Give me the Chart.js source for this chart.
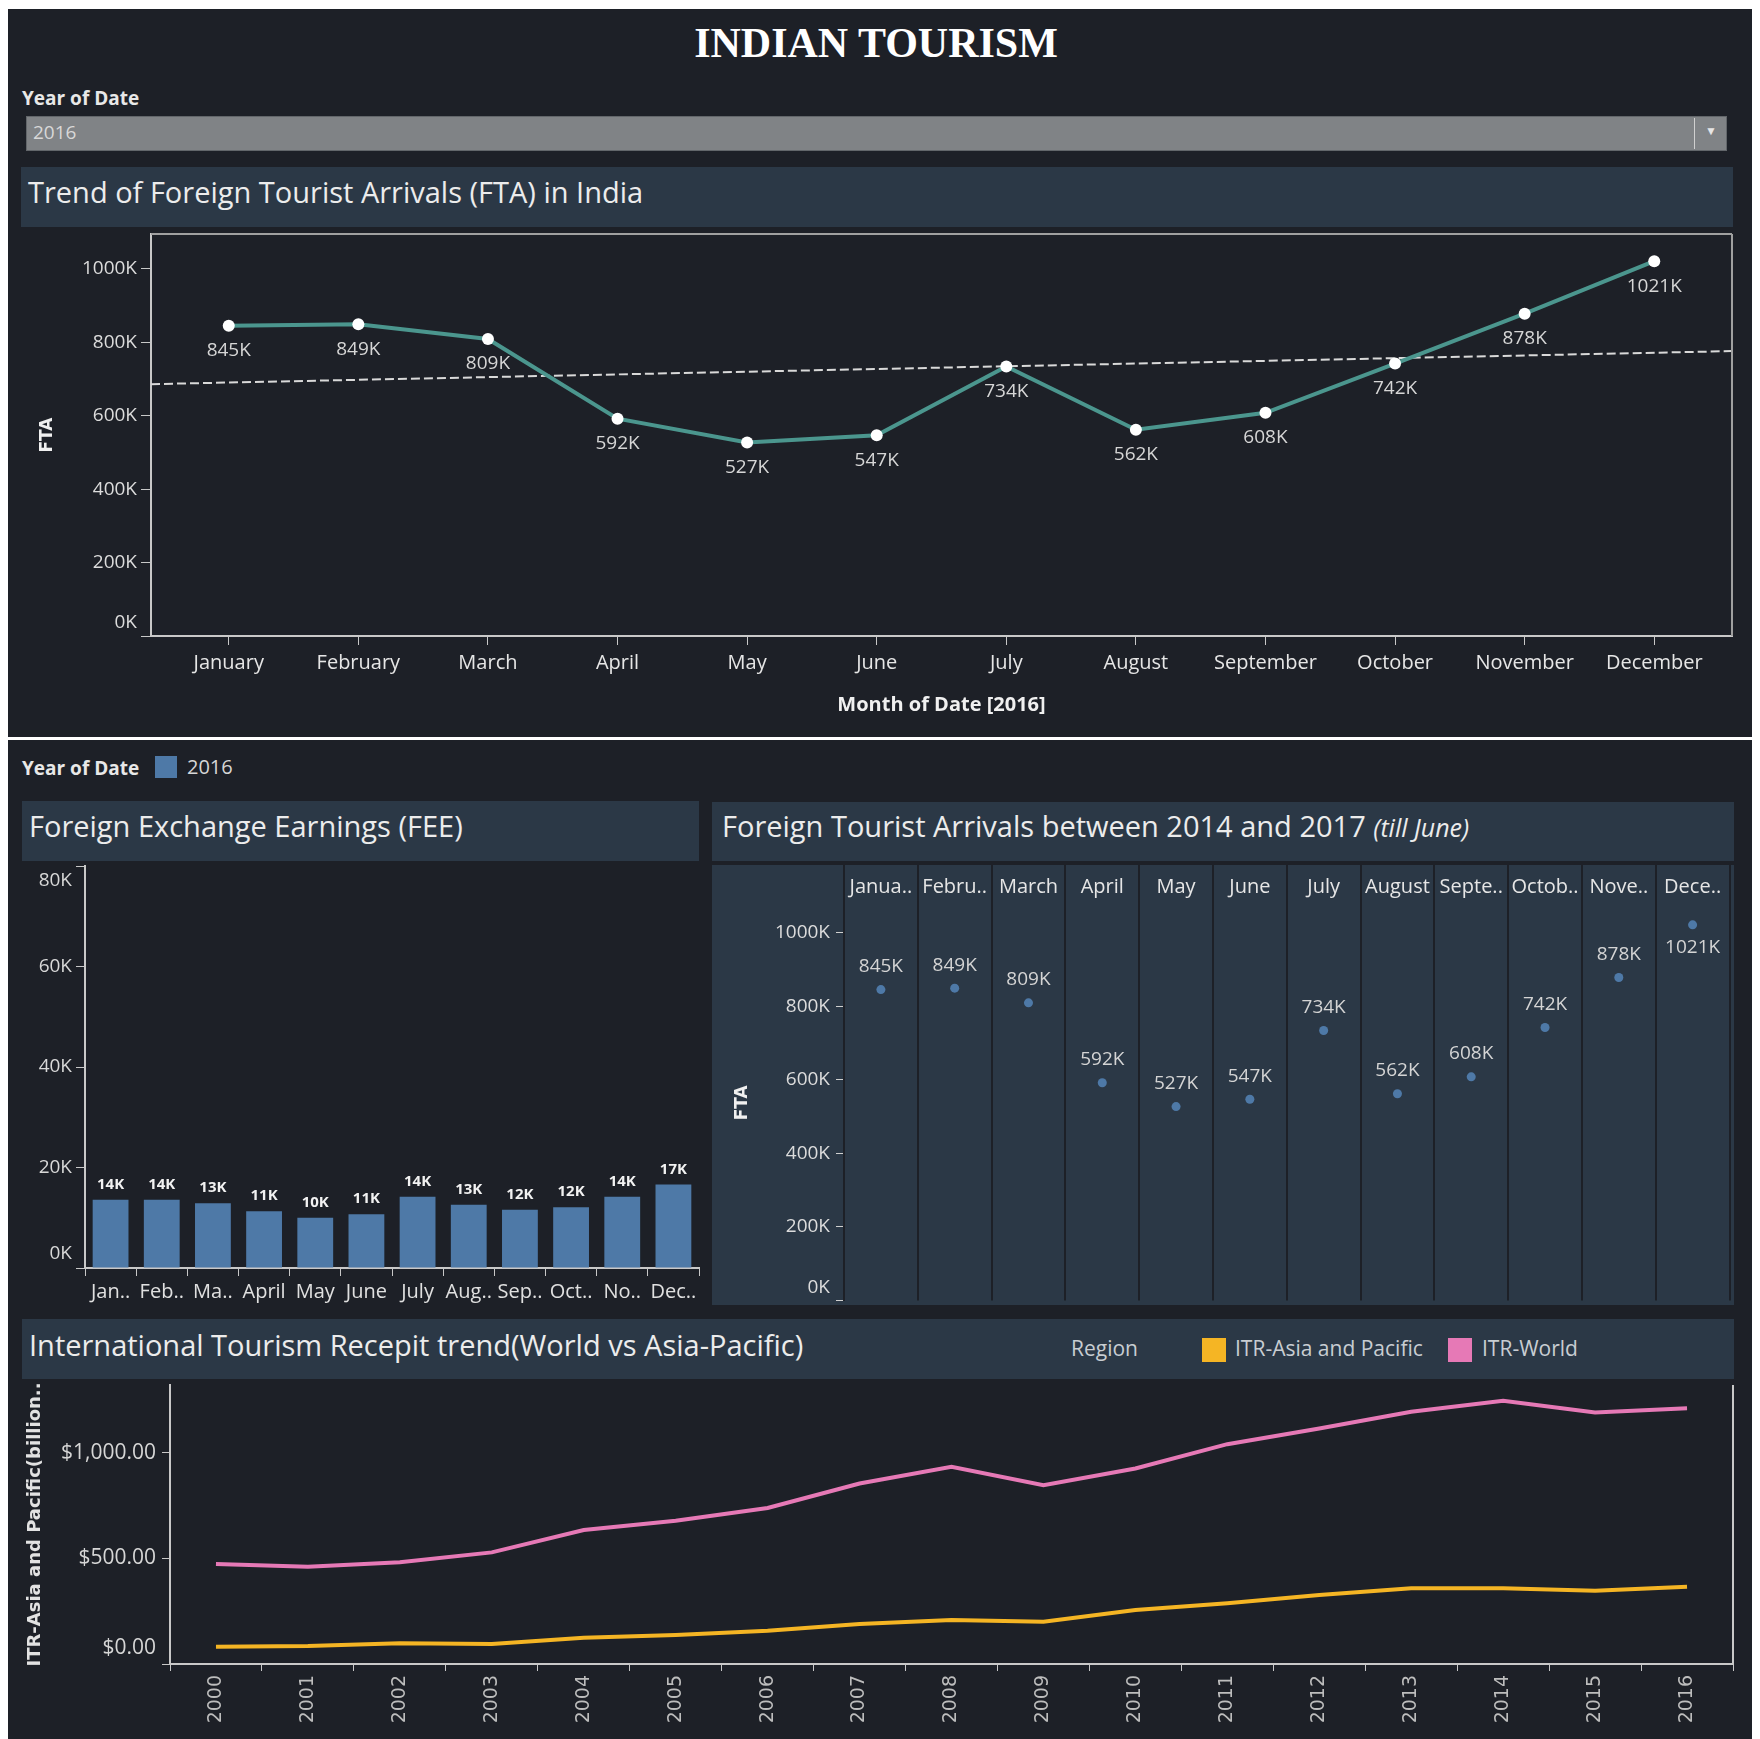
<!DOCTYPE html>
<html><head><meta charset="utf-8">
<script src="https://cdn.jsdelivr.net/npm/chart.js@4.4.1/dist/chart.umd.min.js"></script>
<style>
html,body{margin:0;padding:0;background:#fff;}
body{width:1760px;height:1739px;position:relative;overflow:hidden;font-family:'Open Sans',Lato,sans-serif;}
.a{position:absolute;white-space:nowrap;line-height:1.2;}
.bar{position:absolute;background:#2b3846;}
.ttl{color:#ececec;font-size:29px;}
canvas{position:absolute;}
</style></head><body>
<div class="a" style="left:8px;top:9px;width:1744px;height:1730px;background:#1d2027;"></div>
<div class="a" style="left:8px;top:737px;width:1744px;height:3px;background:#fff;"></div>

<div class="a" style="left:0;width:1752px;top:23px;text-align:center;font:bold 42px/41px 'Liberation Serif',serif;color:#fff;">INDIAN TOURISM</div>
<div class="a" style="left:22px;top:87px;font-size:19px;font-weight:bold;color:#e8e8e8;">Year of Date</div>
<div class="a" style="left:26px;top:116px;width:1699px;height:33px;background:#808386;border:1px solid #62666a;"></div>
<div class="a" style="left:33px;top:121px;font-size:19px;color:#d8d8d8;">2016</div>
<div class="a" style="left:1694px;top:118px;width:1px;height:31px;background:#d0d0d0;"></div>
<div class="a" style="left:1705px;top:124px;font-size:12px;color:#e6e6e6;">&#9660;</div>

<div class="bar" style="left:21px;top:167px;width:1712px;height:60px;"></div>
<div class="a ttl" style="left:28px;top:175px;">Trend of Foreign Tourist Arrivals (FTA) in India</div>

<div class="a" style="left:22px;top:757px;font-size:19px;font-weight:bold;color:#e8e8e8;">Year of Date</div>
<div class="a" style="left:155px;top:756px;width:22px;height:22px;background:#4e79a7;"></div>
<div class="a" style="left:187px;top:755px;font-size:20px;color:#d6d6d6;">2016</div>

<div class="bar" style="left:22px;top:801px;width:677px;height:60px;"></div>
<div class="a ttl" style="left:29px;top:809px;">Foreign Exchange Earnings (FEE)</div>
<div class="bar" style="left:712px;top:802px;width:1022px;height:59px;"></div>
<div class="a ttl" style="left:722px;top:809px;">Foreign Tourist Arrivals between 2014 and 2017 <i style="font-size:25px;">(till June)</i></div>

<div class="bar" style="left:22px;top:1319px;width:1712px;height:60px;"></div>
<div class="a ttl" style="left:29px;top:1328px;">International Tourism Recepit trend(World vs Asia-Pacific)</div>
<div class="a" style="left:1071px;top:1336px;font-size:21px;color:#c8cdd2;">Region</div>
<div class="a" style="left:1202px;top:1338px;width:24px;height:24px;background:#f5b524;"></div>
<div class="a" style="left:1235px;top:1336px;font-size:21px;color:#c8cdd2;">ITR-Asia and Pacific</div>
<div class="a" style="left:1448px;top:1338px;width:24px;height:24px;background:#e679b6;"></div>
<div class="a" style="left:1482px;top:1336px;font-size:21px;color:#c8cdd2;">ITR-World</div>

<canvas id="c1" width="1722" height="500" style="left:20px;top:228px;"></canvas>
<canvas id="c2" width="690" height="450" style="left:20px;top:862px;"></canvas>
<canvas id="c3" width="1022" height="440" style="left:712px;top:865px;background:#2b3846;"></canvas>
<canvas id="c4" width="1722" height="359" style="left:20px;top:1380px;"></canvas>

<script>
// ---------- data ----------
const months = ['January','February','March','April','May','June','July','August','September','October','November','December'];
const fta2016 = [845, 849, 809, 592, 527, 547, 734, 562, 608, 742, 878, 1021]; // thousands
const ftaTrendEnds = [686, 776]; // dashed trend line value at left and right edge of the plot (thousands)
const ftaTicks = [0, 200, 400, 600, 800, 1000];

const feeMonths = ['Jan..','Feb..','Ma..','April','May','June','July','Aug..','Sep..','Oct..','No..','Dec..'];
const fee2016 = [13.6, 13.6, 12.9, 11.3, 10.0, 10.7, 14.2, 12.6, 11.6, 12.1, 14.2, 16.6]; // thousands
const feeTicks = [0, 20, 40, 60, 80];

const ftaHeaders = ['Janua..','Febru..','March','April','May','June','July','August','Septe..','Octob..','Nove..','Dece..'];

const years = ['2000','2001','2002','2003','2004','2005','2006','2007','2008','2009','2010','2011','2012','2013','2014','2015','2016'];
const itrAsiaPacific = [82, 85, 98, 95, 124, 137, 157, 189, 208, 200, 255, 287, 326, 358, 358, 347, 366];
const itrWorld = [473, 460, 481, 528, 634, 678, 738, 854, 933, 846, 925, 1040, 1114, 1193, 1245, 1190, 1210];
const itrTicks = [0, 500, 1000];

// ---------- plugins ----------
const valueLabels = {
  id: 'valueLabels',
  afterDatasetsDraw(chart) {
    const ctx = chart.ctx;
    chart.data.datasets.forEach((ds, di) => {
      const cfg = ds.valueLabels;
      if (!cfg) return;
      const meta = chart.getDatasetMeta(di);
      meta.data.forEach((el, i) => {
        const raw = ds.data[i];
        const v = (raw && typeof raw === 'object') ? raw.y : raw;
        let below = cfg.below;
        if (!below && el.y - cfg.offset < chart.chartArea.top + 12) below = true;
        ctx.save();
        ctx.font = cfg.font;
        ctx.fillStyle = cfg.color;
        ctx.textAlign = 'center';
        ctx.textBaseline = 'middle';
        ctx.fillText(cfg.format(v), el.x, el.y + (below ? cfg.offset : -cfg.offset));
        ctx.restore();
      });
    });
  }
};
const frame = {
  id: 'frame',
  afterDraw(chart, args, opts) {
    if (!opts || (!opts.top && !opts.right)) return;
    const {ctx, chartArea: a} = chart;
    ctx.save();
    ctx.strokeStyle = opts.color || '#a8a8a8';
    ctx.lineWidth = opts.width || 2;
    ctx.beginPath();
    if (opts.top) { ctx.moveTo(a.left, a.top); ctx.lineTo(a.right, a.top); }
    if (opts.right) { ctx.moveTo(a.right, a.top); ctx.lineTo(a.right, a.bottom); }
    ctx.stroke();
    ctx.restore();
  }
};
Chart.register(valueLabels, frame);
Chart.defaults.font.family = "'Open Sans'";
Chart.defaults.animation = false;
Chart.defaults.responsive = false;
Chart.defaults.plugins.legend.display = false;
Chart.defaults.plugins.tooltip.enabled = false;

const AX = '#c8c8c8';
const fitY = w => s => { s.width = w; s.paddingTop = 0; s.paddingBottom = 0; };
const fitX = h => s => { s.height = h; s.paddingLeft = 0; s.paddingRight = 0; };
// edge tick labels are nudged inside the plot (as Tableau does) by padding them with an empty line
const edgeLabel = (text, v, lo, hi) => v === lo ? [text, ''] : (v === hi ? ['', text] : text);

// ---------- chart 1 : FTA trend ----------
const X_MIN = -0.6, X_MAX = 11.6;
new Chart(document.getElementById('c1'), {
  type: 'line',
  data: { datasets: [
    { data: fta2016.map((v, i) => ({x: i, y: v})), borderColor: '#4b968e', borderWidth: 4,
      pointRadius: 6, pointBackgroundColor: '#ffffff', pointBorderWidth: 0, tension: 0,
      valueLabels: {font: "19px 'Open Sans'", color: '#d6d6d6', offset: 25, below: true, format: v => v + 'K'} },
    { data: [{x: X_MIN, y: ftaTrendEnds[0]}, {x: X_MAX, y: ftaTrendEnds[1]}], borderColor: '#d9d9d9',
      borderWidth: 2, borderDash: [9, 4], pointRadius: 0 }
  ]},
  options: {
    layout: {padding: {top: 5, right: 10, left: 0, bottom: 0}},
    plugins: {frame: {top: true, right: true, color: '#a0a0a0', width: 2}},
    scales: {
      x: { type: 'linear', min: X_MIN, max: X_MAX,
        afterBuildTicks: s => { s.ticks = months.map((m, i) => ({value: i})); },
        afterFit: fitX(92),
        ticks: { callback: v => months[v], color: '#e6e6e6', font: {size: 20}, padding: 6, maxRotation: 0, autoSkip: false },
        grid: { drawOnChartArea: false, drawTicks: true, tickLength: 9, color: AX },
        border: { color: AX, width: 2 },
        title: { display: true, text: 'Month of Date [2016]', color: '#f0f0f0', font: {size: 20, weight: 'bold'}, padding: {top: 0, bottom: 11} }
      },
      y: { min: 0, max: 1095,
        afterBuildTicks: s => { s.ticks = ftaTicks.map(v => ({value: v})); },
        afterFit: fitY(131),
        ticks: { callback: v => edgeLabel(v + 'K', v, 0, null), color: '#dcdcdc', font: {size: 19, lineHeight: 1.4}, padding: 4 },
        grid: { drawOnChartArea: false, drawTicks: true, tickLength: 10, color: AX },
        border: { color: AX, width: 2 },
        title: { display: true, text: 'FTA', color: '#f0f0f0', font: {family: 'DejaVu Sans', size: 17, weight: 'bold'}, padding: {top: 17, bottom: 0} }
      }
    }
  }
});

// ---------- chart 2 : FEE bars ----------
new Chart(document.getElementById('c2'), {
  type: 'bar',
  data: { labels: feeMonths, datasets: [
    { data: fee2016, backgroundColor: '#4e79a7', barPercentage: 0.7, categoryPercentage: 1,
      valueLabels: {font: "bold 15px 'Open Sans'", color: '#f2f2f2', offset: 15, below: false, format: v => Math.round(v) + 'K'} }
  ]},
  options: {
    layout: {padding: {top: 4, right: 11, left: 0, bottom: 0}},
    scales: {
      x: { afterFit: fitX(44),
        ticks: { color: '#e0e0e0', font: {size: 20}, padding: 4, maxRotation: 0, autoSkip: false },
        grid: { offset: true, drawOnChartArea: false, drawTicks: true, tickLength: 8, color: AX },
        border: { color: AX, width: 2 }
      },
      y: { min: 0, max: 80,
        afterBuildTicks: s => { s.ticks = feeTicks.map(v => ({value: v})); },
        afterFit: fitY(65),
        ticks: { callback: v => edgeLabel(v + 'K', v, 0, 80), color: '#d8d8d8', font: {size: 19, lineHeight: 1.5}, padding: 4 },
        grid: { drawOnChartArea: false, drawTicks: true, tickLength: 9, color: AX },
        border: { color: AX, width: 2 }
      }
    }
  }
});

// ---------- chart 3 : FTA by month panes ----------
new Chart(document.getElementById('c3'), {
  type: 'line',
  data: { labels: months, datasets: [
    { data: fta2016, showLine: false, pointRadius: 4.5, pointBackgroundColor: '#4e79a7', pointBorderWidth: 0,
      valueLabels: {font: "19px 'Open Sans'", color: '#d4d4d4', offset: 23, below: false, format: v => v + 'K'} }
  ]},
  options: {
    layout: {padding: {top: 0, right: 2, left: 0, bottom: 2}},
    scales: {
      x: { position: 'top', offset: true,
        afterFit: fitX(40),
        ticks: { callback: (v, i) => ftaHeaders[i], color: '#e6e6e6', font: {size: 20}, padding: -34, maxRotation: 0, autoSkip: false },
        grid: { offset: true, drawOnChartArea: true, drawTicks: true, tickLength: 40, color: '#1d2027', lineWidth: 2 },
        border: { display: false }
      },
      y: { min: 0, max: 1075,
        afterBuildTicks: s => { s.ticks = ftaTicks.map(v => ({value: v})); },
        afterFit: fitY(132),
        ticks: { callback: v => edgeLabel(v + 'K', v, 0, null), color: '#dcdcdc', font: {size: 19, lineHeight: 1.4}, padding: 6 },
        grid: { drawOnChartArea: false, drawTicks: true, tickLength: 8, color: '#d0d0d0' },
        border: { color: '#1d2027', width: 2 },
        title: { display: true, text: 'FTA', color: '#f0f0f0', font: {family: 'DejaVu Sans', size: 17, weight: 'bold'}, padding: {top: 20, bottom: 0} }
      }
    }
  }
});

// ---------- chart 4 : ITR world vs Asia-Pacific ----------
new Chart(document.getElementById('c4'), {
  type: 'line',
  data: { labels: years, datasets: [
    { label: 'ITR-Asia and Pacific', data: itrAsiaPacific, borderColor: '#f5b524', borderWidth: 4, pointRadius: 0, tension: 0 },
    { label: 'ITR-World', data: itrWorld, borderColor: '#e679b6', borderWidth: 4, pointRadius: 0, tension: 0 }
  ]},
  options: {
    layout: {padding: {top: 5, right: 9, left: 0, bottom: 0}},
    plugins: {frame: {right: true, color: '#c8c8c8', width: 2}},
    scales: {
      x: { offset: true,
        afterFit: fitX(75),
        ticks: { color: '#bdbdbd', font: {family: 'DejaVu Sans', size: 19}, padding: 4, minRotation: 90, maxRotation: 90, autoSkip: false },
        grid: { offset: true, drawOnChartArea: false, drawTicks: true, tickLength: 7, color: AX },
        border: { color: AX, width: 2 }
      },
      y: { min: 0, max: 1320,
        afterBuildTicks: s => { s.ticks = itrTicks.map(v => ({value: v})); },
        afterFit: fitY(150),
        ticks: { callback: v => edgeLabel('$' + v.toLocaleString('en-US', {minimumFractionDigits: 2, maximumFractionDigits: 2}), v, 0, null),
                 color: '#d6d6d6', font: {size: 21, lineHeight: 1.5}, padding: 6 },
        grid: { drawOnChartArea: false, drawTicks: true, tickLength: 8, color: AX },
        border: { color: AX, width: 2 },
        title: { display: true, text: 'ITR-Asia and Pacific(billion..', color: '#e2e2e2', font: {family: 'DejaVu Sans', size: 18, weight: 'bold'}, padding: {top: 5, bottom: 0} }
      }
    }
  }
});
</script>
</body></html>
